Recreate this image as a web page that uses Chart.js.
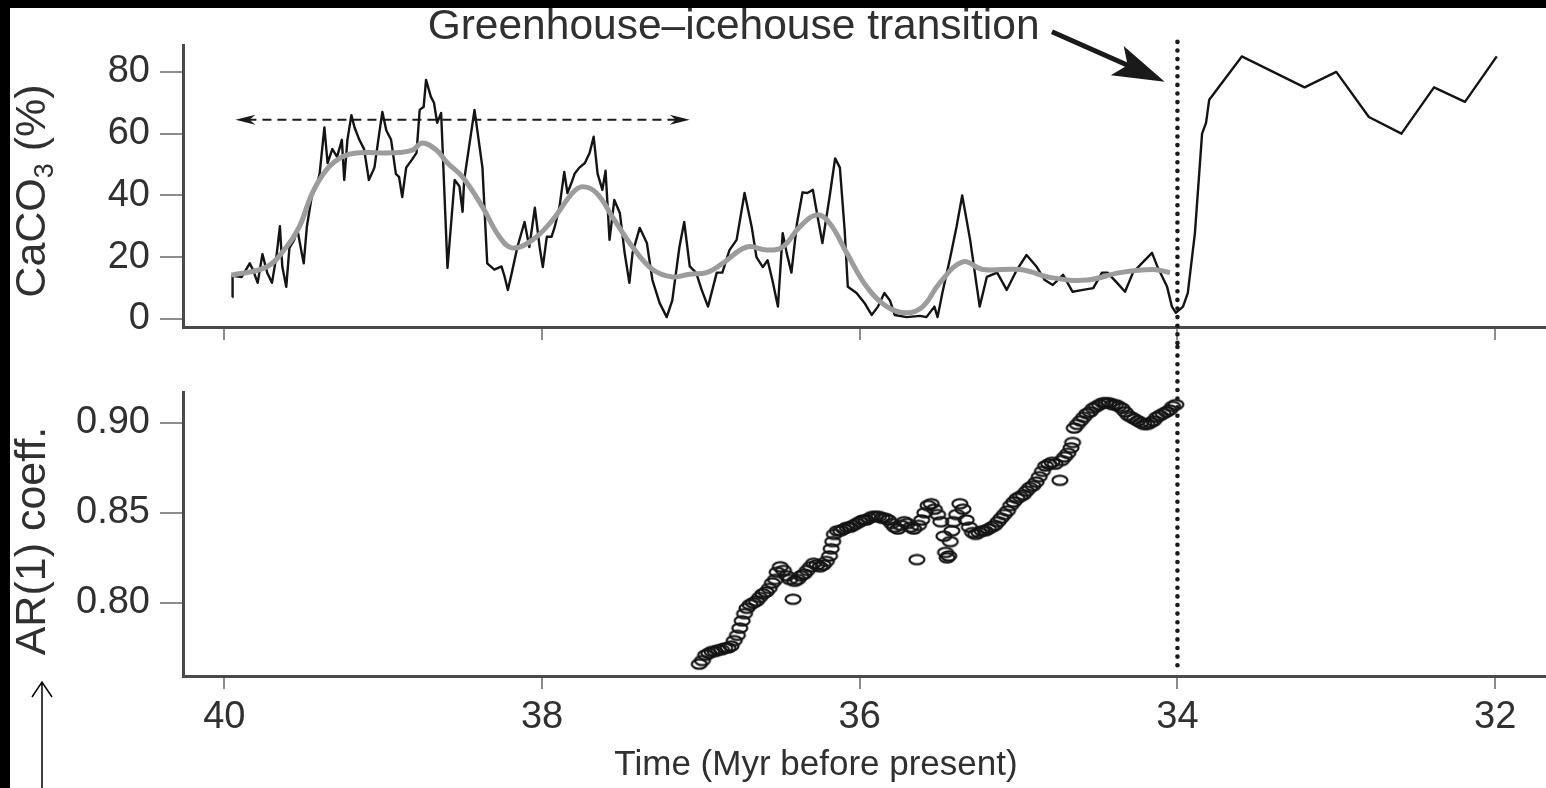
<!DOCTYPE html>
<html>
<head>
<meta charset="utf-8">
<script src="https://cdn.jsdelivr.net/npm/chart.js@4.4.1/dist/chart.umd.min.js"></script>
<style>
  body { margin: 0; background: #000; }
  #wrap { position: absolute; left: 0; top: 0; width: 1546px; height: 788px; overflow: hidden; }
  #paper { position: absolute; left: 10px; top: 8px; right: 0; bottom: 0; background: #fff; }
  canvas { position: absolute; left: 0; }
</style>
</head>
<body>
<div id="wrap">
  <div id="paper"></div>
  <canvas id="topChart" width="1546" height="345" style="top:0"></canvas>
  <canvas id="bottomChart" width="1546" height="443" style="top:345px"></canvas>
</div>
<script>
const FONT = '"Liberation Sans", Arial, Helvetica, sans-serif';
const TEXT = '#303030';

// axis ticks
const xTicks = [40, 38, 36, 34, 32];
const caTicks = [0, 20, 40, 60, 80];
const arTicks = [0.80, 0.85, 0.90];

// CaCO3 record (Myr before present, %)
const caAge = [39.95, 39.948, 39.89, 39.84, 39.82, 39.79, 39.76, 39.73, 39.70, 39.67, 39.65, 39.635, 39.61, 39.59, 39.56, 39.54, 39.515, 39.50, 39.48, 39.45,
  39.42, 39.40, 39.37, 39.35, 39.32, 39.29, 39.26, 39.245, 39.225, 39.20, 39.18, 39.15, 39.12, 39.09, 39.055, 39.025, 39.005, 38.98, 38.95, 38.92,
  38.90, 38.88, 38.855, 38.82, 38.79, 38.77, 38.745, 38.73, 38.70, 38.68, 38.66, 38.635, 38.595, 38.55, 38.52, 38.50, 38.49, 38.425, 38.375, 38.345,
  38.30, 38.255, 38.235, 38.215, 38.19, 38.155, 38.11, 38.08, 38.045, 38.015, 37.995, 37.97, 37.94, 37.92, 37.89, 37.86, 37.84, 37.815, 37.795, 37.765,
  37.73, 37.70, 37.675, 37.65, 37.62, 37.60, 37.575, 37.545, 37.51, 37.48, 37.45, 37.43, 37.385, 37.34, 37.305, 37.26, 37.215, 37.18, 37.135, 37.105,
  37.07, 37.03, 36.995, 36.955, 36.90, 36.865, 36.82, 36.775, 36.725, 36.68, 36.65, 36.61, 36.58, 36.55, 36.515, 36.485, 36.46, 36.43, 36.395, 36.36,
  36.33, 36.295, 36.265, 36.235, 36.19, 36.155, 36.125, 36.095, 36.075, 36.02, 35.97, 35.925, 35.885, 35.845, 35.81, 35.78, 35.705, 35.62, 35.58, 35.53,
  35.51, 35.48, 35.43, 35.39, 35.355, 35.305, 35.245, 35.20, 35.135, 35.075, 35.01, 34.95, 34.885, 34.835, 34.785, 34.72, 34.66, 34.595, 34.53, 34.475,
  34.44, 34.38, 34.33, 34.28, 34.225, 34.16, 34.125, 34.065, 34.035, 34.01, 33.965, 33.935, 33.89, 33.845, 33.82, 33.80, 33.595, 33.20, 33.00, 32.795,
  32.59, 32.385, 32.19, 31.99];
const caVal = [7.1, 14, 13.6, 18, 16, 11.7, 21, 15, 11.7, 21, 30, 17, 10.4, 23, 25.6, 29, 22, 18, 30, 39.5,
  43, 47, 62, 50.5, 55, 52.5, 58, 45, 58, 66, 62, 58, 55, 45, 49, 60, 67, 61, 58, 47,
  46, 39.5, 49, 51.5, 53.8, 67.7, 68.7, 77.4, 72, 70, 63.5, 66.7, 16.5, 45, 43, 34.7, 45, 67.7, 49, 18,
  16, 17, 13.6, 9.4, 15, 23.3, 31.4, 23.3, 36, 23.3, 16.8, 26.6, 26.6, 29.8, 36.3, 47.6, 40.8, 44, 47, 49,
  50.5, 53.8, 59, 47, 41.8, 48, 25.6, 38.5, 34.3, 21.4, 11.7, 21.4, 29.5, 24.6, 12.6, 5.2, 0.6, 6, 23.3, 31.4,
  17, 15, 9.4, 4, 15, 15, 22.3, 25.6, 40.8, 29.8, 20, 16.8, 19, 12.6, 4, 27.8, 21.4, 15, 31, 41,
  40.8, 41.8, 33, 24.6, 39.5, 52, 49, 28.8, 10.4, 8.4, 5.2, 1.3, 4, 8.4, 6, 1.3, 0.6, 1, 0.6, 4,
  0.6, 8.4, 20, 30, 40, 25.6, 4, 13.6, 15, 9.4, 16, 20.7, 16.8, 12.6, 11, 14.3, 8.8, 9.4, 10, 15,
  15, 11.7, 8.8, 15, 18, 21.4, 16.8, 10.4, 4, 2, 4, 8.4, 27.8, 60, 63.5, 71, 85, 75, 80, 65.4,
  60, 75, 70.3, 85];

// smoothed CaCO3 (grey curve)
const smoothAge = [39.956, 39.735, 39.609, 39.528, 39.446, 39.357, 39.257, 39.15, 38.942, 38.816, 38.753, 38.665, 38.595, 38.501, 38.375, 38.268, 38.186,
  38.06, 37.934, 37.808, 37.745, 37.657, 37.556, 37.43, 37.304, 37.178, 37.071, 36.964, 36.863, 36.712, 36.586, 36.485, 36.378, 36.271, 36.189,
  36.082, 35.956, 35.83, 35.704, 35.603, 35.496, 35.351, 35.225, 34.992, 34.784, 34.57, 34.362, 34.154, 34.047];
const smoothVal = [14.2, 16.8, 23.3, 29.8, 40.8, 48.3, 52.5, 53.8, 53.8, 54.7, 57, 54.7, 50.5, 46, 36.3, 26.6, 23,
  25.6, 32, 40.8, 42.8, 40.8, 33, 23.3, 16, 13.6, 14.5, 15, 18, 23.3, 22.3, 23.3, 29.8, 33.7, 31,
  21.4, 10.4, 4, 2, 4, 11.7, 18.5, 16, 16, 13.3, 12.6, 15, 16, 15];

// AR(1) coefficient
const arAge = [37.01, 36.99, 36.97, 36.95, 36.93, 36.91, 36.89, 36.87, 36.85, 36.83, 36.81, 36.79, 36.77, 36.755, 36.74, 36.725, 36.71, 36.69, 36.67, 36.65,
  36.63, 36.61, 36.59, 36.57, 36.55, 36.53, 36.52, 36.50, 36.48, 36.46, 36.44, 36.42, 36.41, 36.39, 36.37, 36.35, 36.33, 36.31, 36.29, 36.27,
  36.25, 36.23, 36.21, 36.19, 36.18, 36.17, 36.16, 36.14, 36.12, 36.10, 36.08, 36.06, 36.04, 36.02, 36.00, 35.98, 35.96, 35.94, 35.92, 35.90,
  35.88, 35.86, 35.84, 35.82, 35.80, 35.78, 35.76, 35.74, 35.72, 35.70, 35.68, 35.66, 35.64, 35.63, 35.61, 35.59, 35.57, 35.55, 35.53, 35.51,
  35.49, 35.47, 35.46, 35.45, 35.44, 35.43, 35.42, 35.41, 35.39, 35.37, 35.35, 35.33, 35.31, 35.29, 35.27, 35.25, 35.23, 35.21, 35.19, 35.17,
  35.15, 35.13, 35.11, 35.09, 35.07, 35.05, 35.03, 35.01, 34.99, 34.97, 34.95, 34.93, 34.91, 34.89, 34.87, 34.85, 34.83, 34.81, 34.79, 34.77,
  34.74, 34.73, 34.71, 34.69, 34.67, 34.66, 34.65, 34.63, 34.61, 34.59, 34.57, 34.55, 34.53, 34.51, 34.49, 34.47, 34.45, 34.43, 34.41, 34.39,
  34.37, 34.35, 34.33, 34.31, 34.29, 34.27, 34.25, 34.23, 34.21, 34.19, 34.17, 34.15, 34.13, 34.11, 34.09, 34.07, 34.05, 34.03, 34.01];
const arCoeff = [0.766, 0.768, 0.771, 0.772, 0.773, 0.773, 0.774, 0.774, 0.775, 0.775, 0.776, 0.779, 0.782, 0.786, 0.790, 0.794, 0.797, 0.799, 0.800, 0.801,
  0.803, 0.805, 0.806, 0.808, 0.811, 0.813, 0.817, 0.820, 0.818, 0.815, 0.813, 0.802, 0.812, 0.813, 0.815, 0.816, 0.818, 0.820, 0.822, 0.821,
  0.820, 0.821, 0.823, 0.826, 0.830, 0.834, 0.838, 0.840, 0.840, 0.841, 0.842, 0.842, 0.843, 0.844, 0.845, 0.846, 0.846, 0.847, 0.848, 0.848,
  0.848, 0.847, 0.847, 0.846, 0.844, 0.842, 0.841, 0.843, 0.845, 0.844, 0.842, 0.841, 0.824, 0.843, 0.846, 0.850, 0.854, 0.855, 0.852, 0.849,
  0.845, 0.837, 0.828, 0.825, 0.826, 0.834, 0.840, 0.845, 0.849, 0.855, 0.852, 0.846, 0.842, 0.839, 0.838, 0.839, 0.840, 0.840, 0.841, 0.842,
  0.843, 0.845, 0.847, 0.849, 0.851, 0.854, 0.856, 0.858, 0.859, 0.860, 0.862, 0.864, 0.865, 0.867, 0.870, 0.873, 0.876, 0.877, 0.878, 0.877,
  0.868, 0.879, 0.881, 0.883, 0.886, 0.889, 0.897, 0.899, 0.901, 0.903, 0.905, 0.906, 0.908, 0.909, 0.910, 0.911, 0.911, 0.911, 0.910, 0.910,
  0.909, 0.908, 0.906, 0.904, 0.903, 0.902, 0.901, 0.900, 0.899, 0.899, 0.900, 0.901, 0.903, 0.904, 0.905, 0.906, 0.907, 0.909, 0.910];

const transitionAge = 34;
const xTitle = 'Time (Myr before present)';

function toPoints(xs, ys) {
  return xs.map((x, i) => ({ x: x, y: ys[i] }));
}

function ellipseMarker() {
  const c = document.createElement('canvas');
  c.width = 20;
  c.height = 14;
  const g = c.getContext('2d');
  g.strokeStyle = '#141414';
  g.lineWidth = 2.2;
  g.beginPath();
  g.ellipse(10, 7, 7.5, 4.6, 0, 0, Math.PI * 2);
  g.stroke();
  return c;
}

// stealth style arrow head
function arrowHead(ctx, tx, ty, ang, len, half, notch) {
  const dx = Math.cos(ang), dy = Math.sin(ang);
  const bx = tx - dx * len, by = ty - dy * len;
  const mx = tx - dx * len * (1 - notch), my = ty - dy * len * (1 - notch);
  ctx.beginPath();
  ctx.moveTo(tx, ty);
  ctx.lineTo(bx - dy * half, by + dx * half);
  ctx.lineTo(mx, my);
  ctx.lineTo(bx + dy * half, by - dx * half);
  ctx.closePath();
  ctx.fill();
}

// rotated y axis title, parts = [[text, isSubscript], ...]
function yTitle(ctx, cx, cy, parts, size) {
  ctx.save();
  ctx.translate(cx, cy);
  ctx.rotate(-Math.PI / 2);
  ctx.fillStyle = TEXT;
  ctx.textBaseline = 'middle';
  ctx.textAlign = 'left';
  const subSize = Math.round(size * 0.62);
  let total = 0;
  parts.forEach(([t, sub]) => {
    ctx.font = (sub ? subSize : size) + 'px ' + FONT;
    total += ctx.measureText(t).width;
  });
  let x = -total / 2;
  parts.forEach(([t, sub]) => {
    ctx.font = (sub ? subSize : size) + 'px ' + FONT;
    ctx.fillText(t, x, sub ? size * 0.3 : 0);
    x += ctx.measureText(t).width;
  });
  ctx.restore();
}

function xScaleOpts(showLabels) {
  return {
    type: 'linear',
    reverse: true,
    min: 31.68,
    max: 40.26,
    afterBuildTicks: s => { s.ticks = xTicks.map(v => ({ value: v })); },
    afterFit: s => {
      s.height = showLabels ? 112 : 18;
      s.paddingLeft = 0;
      s.paddingRight = 0;
    },
    grid: { drawOnChartArea: false, tickLength: 13, color: '#8c8c8c', lineWidth: 2 },
    border: { color: '#4a4a4a', width: 3 },
    ticks: { display: showLabels, font: { family: FONT, size: 38 }, color: TEXT, padding: 6, maxRotation: 0 }
  };
}

function yScaleOpts(min, max, ticks, fmt) {
  return {
    min: min,
    max: max,
    afterBuildTicks: s => { s.ticks = ticks.map(v => ({ value: v })); },
    afterFit: s => {
      s.width = 183;
      s.paddingTop = 0;
      s.paddingBottom = 0;
    },
    grid: { drawOnChartArea: false, tickLength: 23, color: '#8c8c8c', lineWidth: 2 },
    border: { color: '#4a4a4a', width: 3 },
    ticks: { font: { family: FONT, size: 38 }, color: TEXT, padding: 10, callback: fmt }
  };
}

const topDecor = {
  id: 'topDecor',
  afterDatasetsDraw(chart) {
    const { ctx, scales: { x, y } } = chart;
    ctx.save();
    ctx.fillStyle = '#1a1a1a';
    ctx.strokeStyle = '#1a1a1a';

    // dashed double arrow
    const ay = y.getPixelForValue(64.5);
    const ax1 = x.getPixelForValue(39.93), ax2 = x.getPixelForValue(37.07);
    ctx.lineWidth = 1.8;
    ctx.setLineDash([9, 6]);
    ctx.beginPath();
    ctx.moveTo(ax1 + 12, ay);
    ctx.lineTo(ax2 - 12, ay);
    ctx.stroke();
    ctx.setLineDash([]);
    arrowHead(ctx, ax1, ay, Math.PI, 20, 5, 0.3);
    arrowHead(ctx, ax2, ay, 0, 20, 5, 0.3);

    // dotted transition line
    const dx = x.getPixelForValue(transitionAge);
    ctx.lineWidth = 4.6;
    ctx.lineCap = 'round';
    ctx.setLineDash([0, 8.6]);
    ctx.beginPath();
    ctx.moveTo(dx, y.getPixelForValue(89.7));
    ctx.lineTo(dx, chart.height);
    ctx.stroke();
    ctx.setLineDash([]);
    ctx.lineCap = 'butt';

    // annotation
    ctx.font = '42.5px ' + FONT;
    ctx.fillStyle = TEXT;
    ctx.textBaseline = 'middle';
    ctx.textAlign = 'left';
    ctx.fillText('Greenhouse\u2013icehouse transition', x.getPixelForValue(38.72), y.getPixelForValue(94.3));

    const tx = x.getPixelForValue(34.08), ty = y.getPixelForValue(76.8);
    const sx = x.getPixelForValue(34.79), sy = y.getPixelForValue(93);
    const ang = Math.atan2(ty - sy, tx - sx);
    ctx.fillStyle = '#1a1a1a';
    ctx.lineWidth = 5;
    ctx.beginPath();
    ctx.moveTo(sx, sy);
    ctx.lineTo(tx - Math.cos(ang) * 35, ty - Math.sin(ang) * 35);
    ctx.stroke();
    arrowHead(ctx, tx, ty, ang, 52, 16, 0.22);
    ctx.restore();

    yTitle(ctx, 33, 191, [['CaCO', false], ['3', true], [' (%)', false]], 43);
  }
};

const bottomDecor = {
  id: 'bottomDecor',
  afterDatasetsDraw(chart) {
    const { ctx, scales: { x } } = chart;
    ctx.save();
    const dx = x.getPixelForValue(transitionAge);
    ctx.strokeStyle = '#1a1a1a';
    ctx.lineWidth = 4.6;
    ctx.lineCap = 'round';
    ctx.setLineDash([0, 8.6]);
    ctx.lineDashOffset = -((345 - 42) % 8.6);
    ctx.beginPath();
    ctx.moveTo(dx, 0);
    ctx.lineTo(dx, chart.chartArea.bottom - 4);
    ctx.stroke();
    ctx.setLineDash([]);
    ctx.lineCap = 'butt';

    // x axis title
    ctx.font = '35px ' + FONT;
    ctx.fillStyle = TEXT;
    ctx.textAlign = 'center';
    ctx.textBaseline = 'middle';
    ctx.fillText(xTitle, 816, 420);

    // thin pointer arrow at the lower left
    ctx.strokeStyle = '#000';
    ctx.lineWidth = 1.5;
    ctx.beginPath();
    ctx.moveTo(42, 337);
    ctx.lineTo(42, 443);
    ctx.moveTo(32, 352);
    ctx.lineTo(42, 337);
    ctx.lineTo(52, 352);
    ctx.stroke();
    ctx.restore();

    yTitle(ctx, 33, 196, [['AR(1) coeff.', false]], 43);
  }
};

new Chart(document.getElementById('topChart'), {
  type: 'line',
  data: {
    datasets: [
      {
        data: toPoints(smoothAge, smoothVal),
        borderColor: '#9c9c9c',
        borderWidth: 5,
        tension: 0.4,
        pointRadius: 0,
        fill: false
      },
      {
        data: toPoints(caAge, caVal),
        borderColor: '#141414',
        borderWidth: 2.4,
        tension: 0,
        pointRadius: 0,
        borderJoinStyle: 'round',
        fill: false
      }
    ]
  },
  options: {
    responsive: false,
    animation: false,
    devicePixelRatio: 1,
    layout: { autoPadding: false, padding: { top: 45, right: 0, bottom: 0, left: 0 } },
    plugins: { legend: { display: false }, tooltip: { enabled: false } },
    scales: {
      x: xScaleOpts(false),
      y: yScaleOpts(-2.6, 88.7, caTicks, v => String(v))
    }
  },
  plugins: [topDecor]
});

new Chart(document.getElementById('bottomChart'), {
  type: 'scatter',
  data: {
    datasets: [
      {
        data: toPoints(arAge, arCoeff),
        pointStyle: ellipseMarker(),
        pointRadius: 6,
        showLine: false
      }
    ]
  },
  options: {
    responsive: false,
    animation: false,
    devicePixelRatio: 1,
    layout: { autoPadding: false, padding: { top: 47, right: 0, bottom: 0, left: 0 } },
    plugins: { legend: { display: false }, tooltip: { enabled: false } },
    scales: {
      x: xScaleOpts(true),
      y: yScaleOpts(0.7594, 0.917, arTicks, v => v.toFixed(2))
    }
  },
  plugins: [bottomDecor]
});
</script>
</body>
</html>
